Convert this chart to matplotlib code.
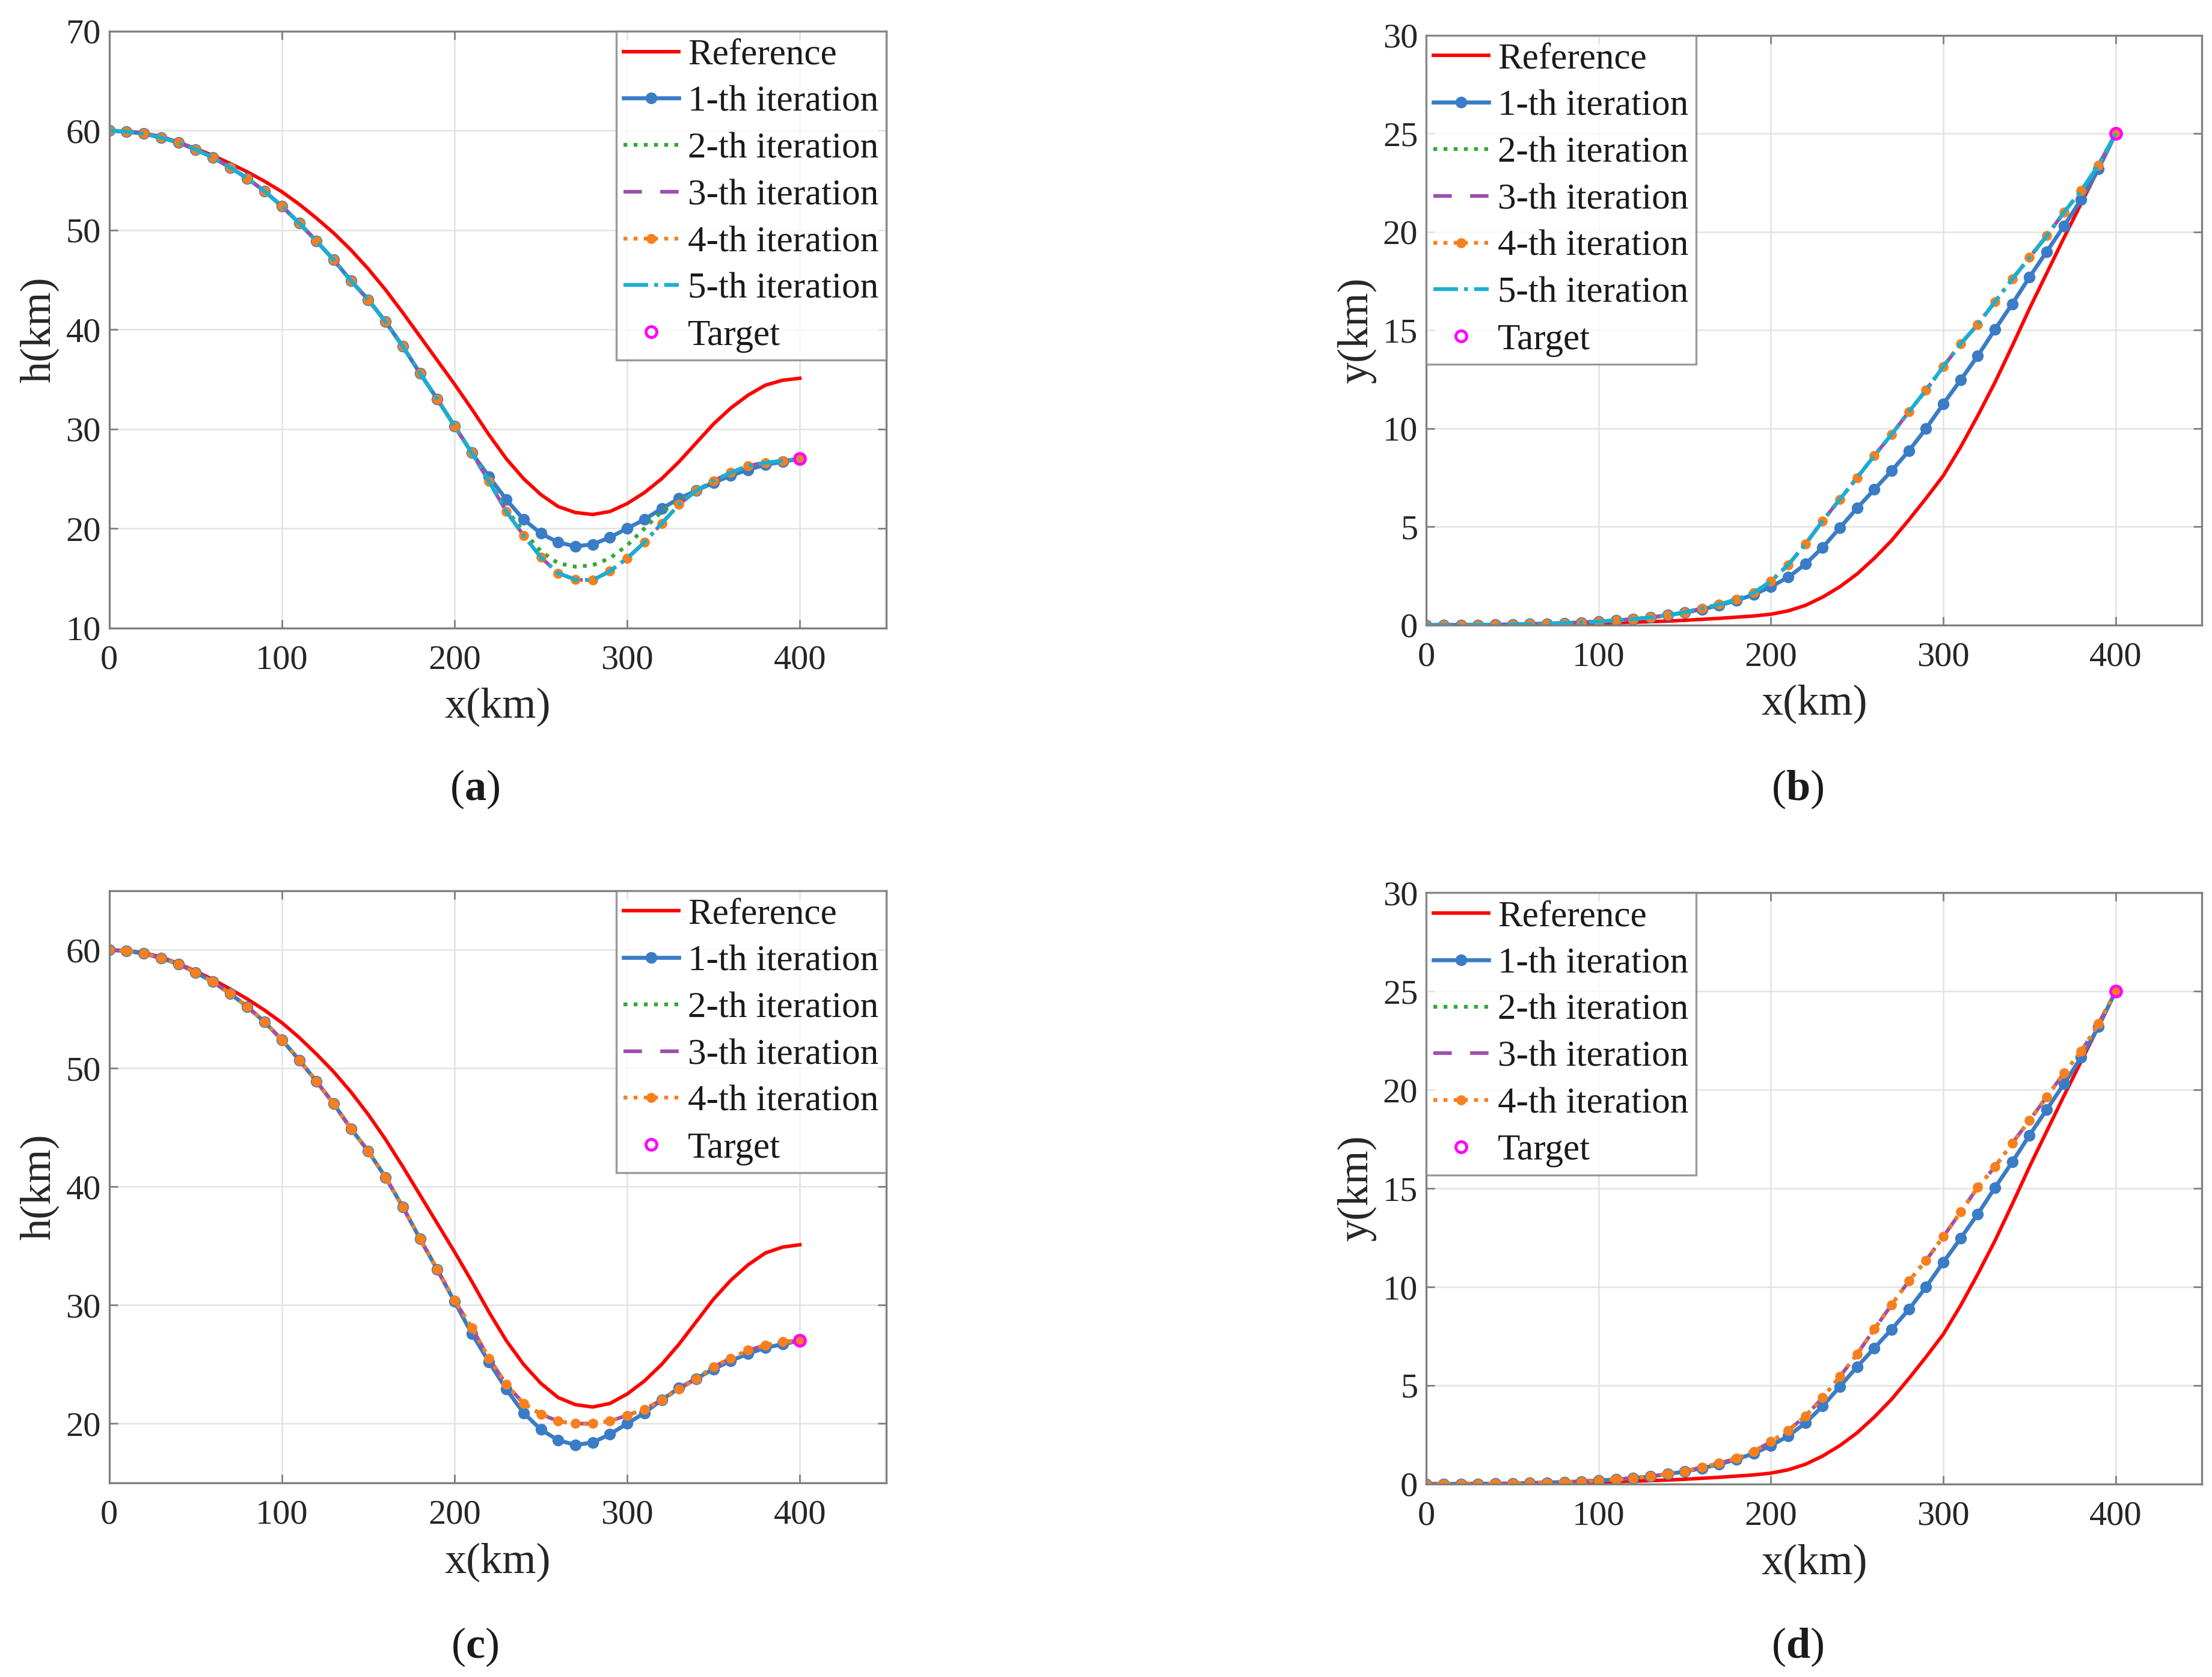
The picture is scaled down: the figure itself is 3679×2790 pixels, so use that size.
import matplotlib
matplotlib.use('Agg')
import matplotlib.pyplot as plt

plt.rcParams['font.family'] = ['Liberation Serif', 'DejaVu Serif']
plt.rcParams['mathtext.fontset'] = 'custom'
plt.rcParams['mathtext.rm'] = 'Liberation Serif'
plt.rcParams['mathtext.bf'] = 'Liberation Serif:bold'

# range in km, one sample every 10 km
x_km = [0, 10, 20, 30, 40, 50, 60, 70, 80, 90, 100, 110, 120, 130, 140, 150, 160, 170, 180, 190, 200,
        210, 220, 230, 240, 250, 260, 270, 280, 290, 300, 310, 320, 330, 340, 350, 360, 370, 380, 390, 400]

# altitude h(km)
h_ref = [60.0, 59.95, 59.75, 59.4, 58.85, 58.2, 57.5, 56.7, 55.85, 54.9, 53.85, 52.6, 51.2, 49.7, 48.0, 46.1,
         44.0, 41.7, 39.3, 36.9, 34.5, 32.0, 29.4, 27.0, 25.0, 23.4, 22.2, 21.6, 21.4, 21.7, 22.5, 23.6, 25.0,
         26.7, 28.6, 30.5, 32.1, 33.4, 34.4, 34.9, 35.1]
h_it1 = [60.0, 59.9, 59.7, 59.3, 58.8, 58.1, 57.3, 56.3, 55.2, 53.9, 52.4, 50.7, 48.9, 47.0, 44.9, 43.0,
         40.8, 38.3, 35.6, 33.0, 30.3, 27.6, 25.2, 22.9, 20.9, 19.5, 18.6, 18.2, 18.4, 19.1, 20.0, 20.9, 22.0,
         23.0, 23.8, 24.6, 25.3, 25.9, 26.4, 26.7, 27.0]
# panel (a): 2-th iteration, and 3/4/5-th iterations (overlapping)
h_it2_a = [60.0, 59.9, 59.7, 59.3, 58.8, 58.1, 57.3, 56.3, 55.2, 53.9, 52.4, 50.7, 48.9, 47.0, 44.9, 43.0,
           40.8, 38.3, 35.6, 33.0, 30.3, 27.6, 24.8, 21.9, 19.7, 17.7, 16.5, 16.15, 16.3, 17.0, 18.3, 20.0,
           21.7, 22.8, 23.8, 24.7, 25.6, 26.3, 26.6, 26.8, 27.0]
h_it4_a = [60.0, 59.9, 59.7, 59.3, 58.8, 58.1, 57.3, 56.3, 55.2, 53.9, 52.4, 50.7, 48.9, 47.0, 44.9, 43.0,
           40.8, 38.3, 35.6, 33.0, 30.3, 27.6, 24.7, 21.7, 19.3, 17.1, 15.5, 14.85, 14.8, 15.7, 17.0, 18.6,
           20.5, 22.4, 23.8, 24.8, 25.6, 26.3, 26.6, 26.8, 27.0]
# panel (c): 2/3/4-th iterations (overlapping)
h_it4_c = [60.0, 59.9, 59.7, 59.3, 58.8, 58.1, 57.3, 56.3, 55.2, 53.9, 52.4, 50.7, 48.9, 47.0, 44.9, 43.0,
           40.8, 38.3, 35.6, 33.0, 30.4, 28.1, 25.5, 23.3, 21.7, 20.8, 20.2, 20.0, 20.0, 20.2, 20.7, 21.2,
           22.0, 22.9, 23.8, 24.8, 25.5, 26.2, 26.6, 26.9, 27.0]

# cross range y(km)
y_ref = [0.0, 0.0, 0.01, 0.01, 0.02, 0.03, 0.04, 0.05, 0.06, 0.08, 0.1, 0.12, 0.14, 0.17, 0.2, 0.24, 0.29,
         0.34, 0.4, 0.46, 0.55, 0.72, 1.0, 1.42, 1.95, 2.6, 3.4, 4.3, 5.35, 6.45, 7.6, 9.05, 10.65, 12.35,
         14.2, 16.1, 17.9, 19.7, 21.45, 23.2, 25.0]
y_it1 = [0.0, 0.0, 0.0, 0.01, 0.02, 0.03, 0.05, 0.07, 0.1, 0.13, 0.18, 0.23, 0.3, 0.38, 0.5, 0.63, 0.8, 1.0,
         1.25, 1.55, 1.95, 2.43, 3.1, 3.95, 4.95, 5.95, 6.9, 7.85, 8.86, 10.0, 11.25, 12.46, 13.7, 15.04,
         16.34, 17.7, 19.0, 20.3, 21.65, 23.2, 25.0]
y_it4_b = [0.0, 0.0, 0.0, 0.01, 0.02, 0.03, 0.05, 0.07, 0.1, 0.13, 0.18, 0.23, 0.3, 0.38, 0.5, 0.65, 0.85,
           1.05, 1.3, 1.64, 2.23, 3.06, 4.12, 5.3, 6.4, 7.5, 8.62, 9.7, 10.85, 11.95, 13.15, 14.3, 15.3,
           16.45, 17.6, 18.7, 19.8, 21.0, 22.1, 23.4, 25.0]
y_it4_d = [0.0, 0.0, 0.0, 0.01, 0.02, 0.03, 0.05, 0.07, 0.1, 0.13, 0.18, 0.23, 0.3, 0.38, 0.5, 0.65, 0.85,
           1.05, 1.3, 1.65, 2.15, 2.72, 3.44, 4.38, 5.45, 6.6, 7.86, 9.1, 10.3, 11.35, 12.55, 13.8, 15.05,
           16.1, 17.3, 18.45, 19.65, 20.85, 21.95, 23.35, 25.0]

target_x = 400
target_h = 27.0
target_y = 25.0

red = '#FF0000'
blue = '#3A7CC6'
green = '#33AA33'
purple = '#9E4FB0'
orange = '#F77F1E'
cyan = '#1AAFD2'
magenta = '#FF00FF'
gray = '#808080'
fs = 42


def panel(ax, ref, it1, it2, it3, it4, it5, tx, ty, ylim, yticks, ylabel, legend_loc):
    ax.plot(x_km, ref, '-', color=red, lw=4.2, label='Reference')
    ax.plot(x_km, it1, '-', color=blue, lw=4.8, marker='o', ms=13, mec=blue, mfc=blue,
            label='1-th iteration')
    ax.plot(x_km, it2, ':', color=green, lw=4.6, label='2-th iteration')
    ax.plot(x_km, it3, '--', color=purple, lw=4.4, dashes=(5, 5), label='3-th iteration')
    ax.plot(x_km, it4, ':', color=orange, lw=4.6, marker='o', ms=11, mec=orange, mfc=orange,
            label='4-th iteration')
    if it5 is not None:
        ax.plot(x_km, it5, '-.', color=cyan, lw=4.6, label='5-th iteration')
    ax.plot([tx], [ty], 'o', mfc='none', mec=magenta, mew=3.5, ms=13, label='Target', zorder=10)

    ax.set_xlim(0, 450)
    ax.set_ylim(*ylim)
    ax.set_xticks([0, 100, 200, 300, 400])
    ax.set_yticks(yticks)
    ax.grid(True, color='#E3E3E3', lw=1.8)
    ax.set_axisbelow(True)
    for s in ax.spines.values():
        s.set_color(gray)
        s.set_linewidth(2.4)
    ax.tick_params(direction='in', length=10, width=2, colors=gray, labelcolor='#262626',
                   labelsize=fs, top=True, right=True)
    ax.tick_params(axis='x', pad=20)
    ax.tick_params(axis='y', pad=10)
    ax.set_xlabel('x(km)', fontsize=52, color='#262626', labelpad=14)
    ax.set_ylabel(ylabel, fontsize=52, color='#262626', labelpad=8)
    if legend_loc == 'upper right':
        anchor = (1.0, 1.0)
    else:
        anchor = (0.0, 1.0)
    leg = ax.legend(loc=legend_loc, bbox_to_anchor=anchor, borderaxespad=0.0, fontsize=fs + 2,
                    frameon=True, fancybox=False, edgecolor=gray, handlelength=1.5,
                    handletextpad=0.25, borderpad=0.2, labelspacing=0.36, numpoints=1)
    leg.get_frame().set_linewidth(2.4)
    for t in leg.get_texts():
        t.set_color('#1a1a1a')


fig = plt.figure(figsize=(36.79, 27.90), dpi=100)
ax_a = fig.add_axes([0.0494, 0.6256, 0.3512, 0.3558])
ax_b = fig.add_axes([0.6448, 0.6273, 0.3506, 0.3516])
ax_c = fig.add_axes([0.0494, 0.1158, 0.3512, 0.3531])
ax_d = fig.add_axes([0.6448, 0.1151, 0.3506, 0.3525])

panel(ax_a, h_ref, h_it1, h_it2_a, h_it4_a, h_it4_a, h_it4_a, target_x, target_h,
      (10, 70), [10, 20, 30, 40, 50, 60, 70], 'h(km)', 'upper right')
panel(ax_b, y_ref, y_it1, y_it4_b, y_it4_b, y_it4_b, y_it4_b, target_x, target_y,
      (0, 30), [0, 5, 10, 15, 20, 25, 30], 'y(km)', 'upper left')
panel(ax_c, h_ref, h_it1, h_it4_c, h_it4_c, h_it4_c, None, target_x, target_h,
      (15, 65), [20, 30, 40, 50, 60], 'h(km)', 'upper right')
panel(ax_d, y_ref, y_it1, y_it4_d, y_it4_d, y_it4_d, None, target_x, target_y,
      (0, 30), [0, 5, 10, 15, 20, 25, 30], 'y(km)', 'upper left')

for lab, xf, yf in [('a', 0.2147, 0.5294), ('b', 0.8127, 0.5294),
                    ('c', 0.2147, 0.0179), ('d', 0.8127, 0.0179)]:
    fig.text(xf, yf, r'($\mathbf{' + lab + '}$)', fontsize=52, ha='center', va='center',
             color='#1a1a1a')

fig.savefig('out.png', dpi=100)
